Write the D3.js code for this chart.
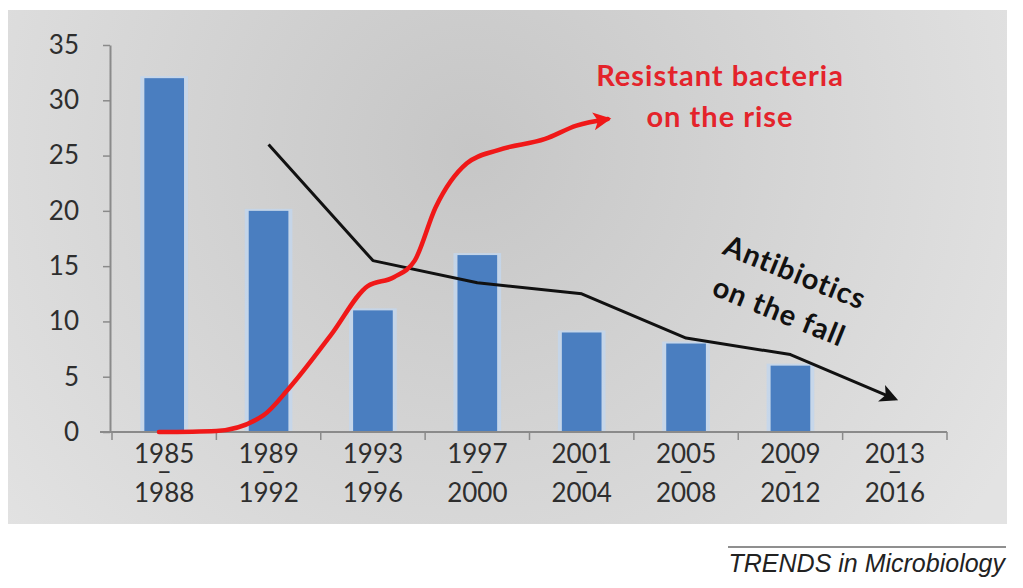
<!DOCTYPE html>
<html>
<head>
<meta charset="utf-8">
<script src="https://cdn.jsdelivr.net/npm/d3@7"></script>
<style>
  html, body { margin: 0; padding: 0; background: #ffffff; }
  svg { display: block; }
</style>
</head>
<body>
<svg id="chart" width="1023" height="588"></svg>
<script>
// Four-year periods on the x axis
const periodStart = ["1985", "1989", "1993", "1997", "2001", "2005", "2009", "2013"];
const periodEnd   = ["1988", "1992", "1996", "2000", "2004", "2008", "2012", "2016"];

// Bars: new antibiotics approved per period (none drawn for the last period)
const approvals = [32, 20, 11, 16, 9, 8, 6, null];

// Black trend line "Antibiotics on the fall" (value per period)
const antibioticTrend = [null, 26, 15.5, 13.5, 12.5, 8.5, 7, 3];

// Red trend line "Resistant bacteria on the rise": [period position, value]
const resistancePos = [-0.05, 0.5, 0.95, 1.2, 1.6, 1.95, 2.2, 2.4, 2.6, 2.9, 3.2, 3.65, 3.95, 4.25];
const resistanceVal = [0, 0.1, 1.5, 4, 8.8, 13.2, 14, 15.5, 20.3, 24.3, 25.5, 26.5, 27.7, 28.3];

const yTicks = [0, 5, 10, 15, 20, 25, 30, 35];

const svg = d3.select("#chart");
const defs = svg.append("defs");

// Panel background
const grad = defs.append("radialGradient")
  .attr("id", "panelGrad")
  .attr("gradientUnits", "userSpaceOnUse")
  .attr("cx", 470).attr("cy", 150).attr("r", 620);
grad.append("stop").attr("offset", "0%").attr("stop-color", "#c6c6c6");
grad.append("stop").attr("offset", "55%").attr("stop-color", "#d6d6d6");
grad.append("stop").attr("offset", "100%").attr("stop-color", "#e3e3e3");

svg.append("rect")
  .attr("x", 8).attr("y", 10).attr("width", 999).attr("height", 514)
  .attr("fill", "url(#panelGrad)");

// Arrowheads
function arrow(id, color) {
  defs.append("marker")
    .attr("id", id)
    .attr("viewBox", "0 0 10 10")
    .attr("refX", 8).attr("refY", 5)
    .attr("markerUnits", "userSpaceOnUse")
    .attr("markerWidth", 22).attr("markerHeight", 18)
    .attr("orient", "auto")
    .append("path")
    .attr("d", "M0,0 L10,5 L0,10 L2.5,5 Z")
    .attr("fill", color);
}
arrow("arrowBlack", "#111111");
arrow("arrowRed", "#f01818");

// Plot area
const plotLeft = 112, plotRight = 947, plotTop = 45, plotBottom = 432;
const x = d3.scaleBand()
  .domain(periodStart)
  .range([plotLeft, plotRight])
  .paddingInner(0.62)
  .paddingOuter(0.31);
const xPos = d3.scaleLinear().domain([-0.5, periodStart.length - 0.5]).range([plotLeft, plotRight]);
const y = d3.scaleLinear().domain([0, 35]).range([plotBottom, plotTop]);

const font = "Lato, 'Open Sans', sans-serif";

// Bars with a soft light-blue edge
const barData = periodStart.map((p, i) => ({ p, v: approvals[i] })).filter(d => d.v != null);
svg.append("g").selectAll("rect")
  .data(barData)
  .join("rect")
  .attr("x", d => x(d.p) - 4)
  .attr("y", d => y(d.v) - 2)
  .attr("width", x.bandwidth() + 8)
  .attr("height", d => y(0) - y(d.v) + 2)
  .attr("fill", "#c3d6ec")
  .attr("opacity", 0.85);
svg.append("g").selectAll("rect")
  .data(barData)
  .join("rect")
  .attr("x", d => x(d.p))
  .attr("y", d => y(d.v))
  .attr("width", x.bandwidth())
  .attr("height", d => y(0) - y(d.v))
  .attr("fill", "#4a7ec0");

// Y axis
const yAxis = svg.append("g")
  .attr("transform", `translate(${plotLeft - 2},0)`)
  .call(d3.axisLeft(y).tickValues(yTicks).tickSize(7).tickPadding(24).tickSizeOuter(0));
yAxis.select(".domain").attr("stroke", "#8a8a8a").attr("stroke-width", 2);
yAxis.selectAll(".tick line").attr("stroke", "#8a8a8a").attr("stroke-width", 1.5);
yAxis.selectAll(".tick text")
  .attr("font-family", font).attr("font-size", 26).attr("fill", "#2e2e2e");

// X axis line and category boundary ticks
const xAxisG = svg.append("g").attr("transform", `translate(0,${plotBottom})`);
xAxisG.append("line")
  .attr("x1", plotLeft - 12).attr("x2", plotRight)
  .attr("stroke", "#8a8a8a").attr("stroke-width", 2);
xAxisG.selectAll("line.bound")
  .data(d3.range(periodStart.length + 1))
  .join("line")
  .attr("class", "bound")
  .attr("x1", i => xPos(i - 0.5)).attr("x2", i => xPos(i - 0.5))
  .attr("y1", 0).attr("y2", 8)
  .attr("stroke", "#8a8a8a").attr("stroke-width", 1.5);

// Two-line period labels: start year, dash, end year
const lbl = svg.append("g").selectAll("text")
  .data(periodStart.map((s, i) => ({ s, e: periodEnd[i] })))
  .join("text")
  .attr("font-family", font).attr("font-size", 26).attr("fill", "#2e2e2e")
  .attr("text-anchor", "middle");
lbl.append("tspan")
  .attr("x", d => x(d.s) + x.bandwidth() / 2).attr("y", 463).text(d => d.s);
lbl.append("tspan")
  .attr("x", d => x(d.s) + x.bandwidth() / 2).attr("y", 480).text("–");
lbl.append("tspan")
  .attr("x", d => x(d.s) + x.bandwidth() / 2).attr("y", 502).text(d => d.e);

// Black trend line
const blackPts = antibioticTrend.map((v, i) => [i, v]).filter(d => d[1] != null);
svg.append("path")
  .datum(blackPts)
  .attr("d", d3.line().x(d => xPos(d[0])).y(d => y(d[1])))
  .attr("fill", "none")
  .attr("stroke", "#111111")
  .attr("stroke-width", 3)
  .attr("stroke-linejoin", "round")
  .attr("marker-end", "url(#arrowBlack)");

// Red trend line
const redPts = resistancePos.map((p, i) => [p, resistanceVal[i]]);
svg.append("path")
  .datum(redPts)
  .attr("d", d3.line().curve(d3.curveMonotoneX).x(d => xPos(d[0])).y(d => y(d[1])))
  .attr("fill", "none")
  .attr("stroke", "#f01818")
  .attr("stroke-width", 4.5)
  .attr("stroke-linejoin", "round")
  .attr("stroke-linecap", "round")
  .attr("marker-end", "url(#arrowRed)");

// Annotations
const redNote = svg.append("g")
  .attr("font-family", font).attr("font-weight", 700).attr("font-size", 29)
  .attr("letter-spacing", 1)
  .attr("fill", "#e4232b").attr("text-anchor", "middle");
redNote.append("text").attr("x", 720).attr("y", 86).text("Resistant bacteria");
redNote.append("text").attr("x", 720).attr("y", 127).text("on the rise");

const blackNote = svg.append("g")
  .attr("transform", "translate(787,292) rotate(22)")
  .attr("font-family", font).attr("font-weight", 700).attr("font-size", 29)
  .attr("letter-spacing", 1)
  .attr("fill", "#111111").attr("text-anchor", "middle");
blackNote.append("text").attr("x", 0).attr("y", -11).text("Antibiotics");
blackNote.append("text").attr("x", 0).attr("y", 31).text("on the fall");

// Journal credit
svg.append("line")
  .attr("x1", 728).attr("x2", 1006).attr("y1", 547).attr("y2", 547)
  .attr("stroke", "#6a6a6a").attr("stroke-width", 1.5);
svg.append("text")
  .attr("x", 1005).attr("y", 572)
  .attr("text-anchor", "end")
  .attr("font-family", "'Liberation Sans', Arial, sans-serif")
  .attr("font-style", "italic").attr("font-size", 25)
  .attr("fill", "#222222")
  .text("TRENDS in Microbiology");
</script>
</body>
</html>
